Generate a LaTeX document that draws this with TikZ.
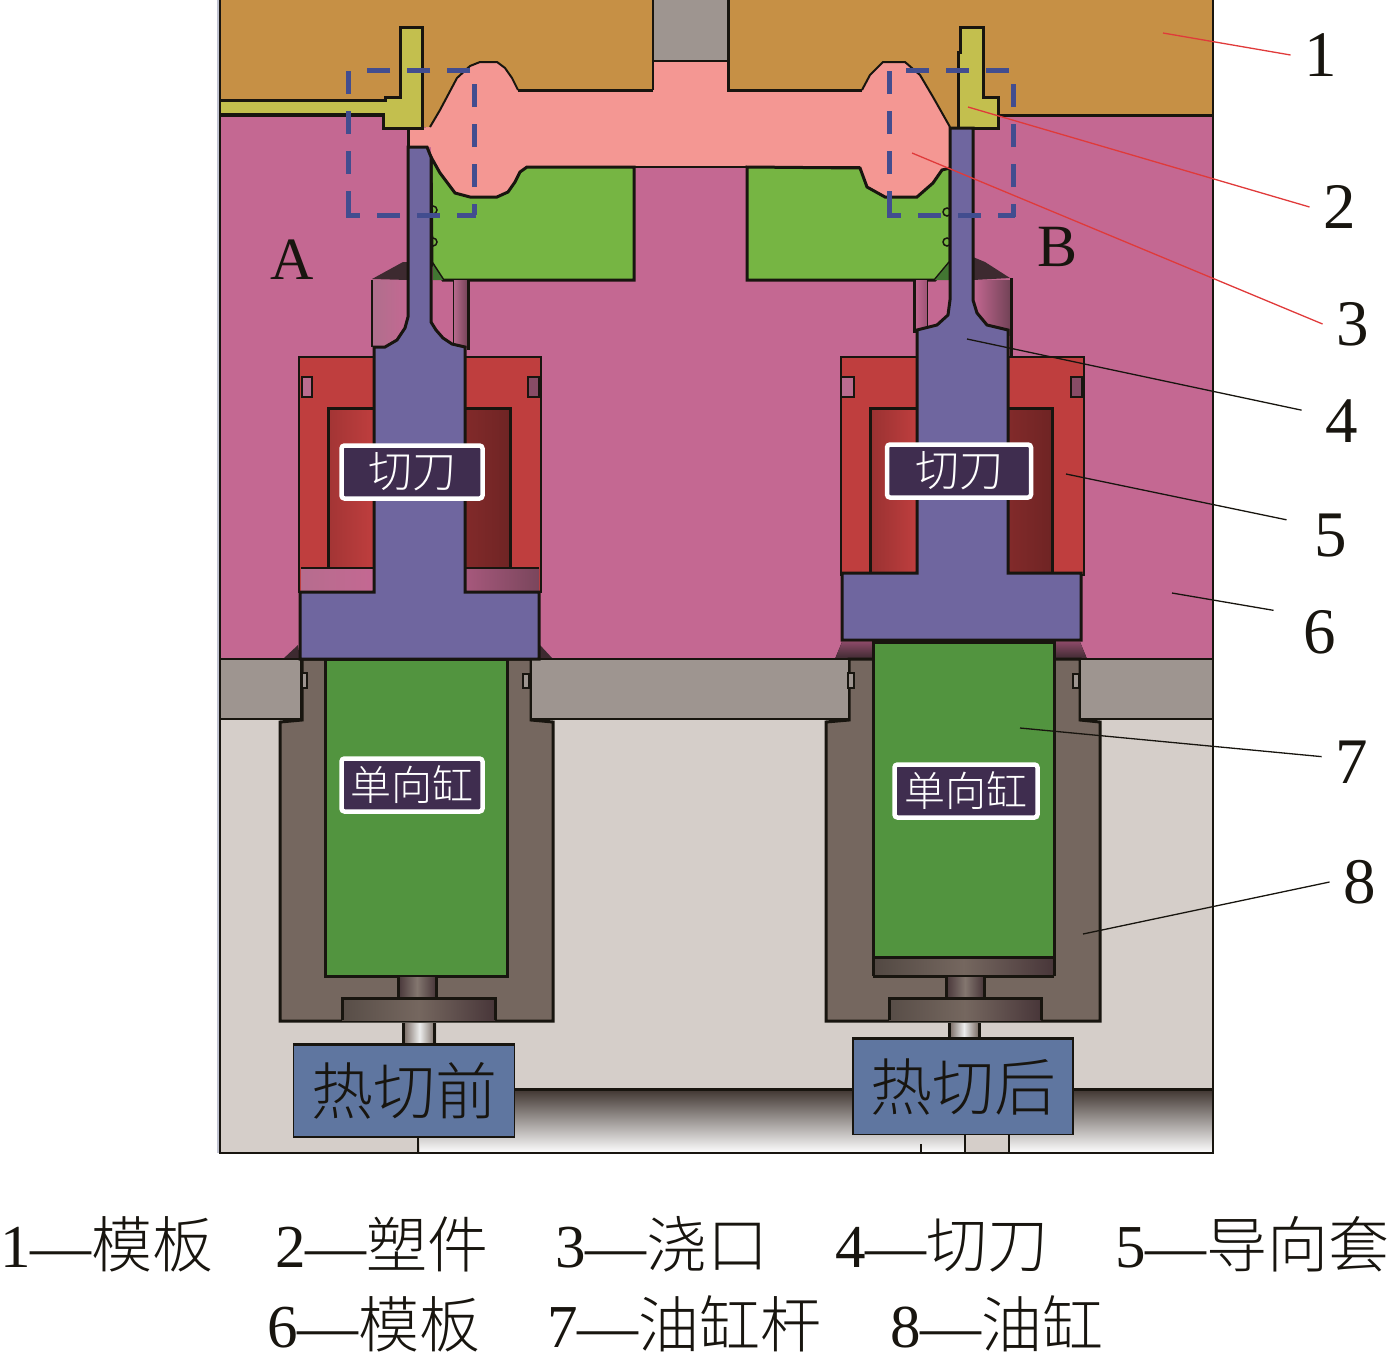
\documentclass[tikz,border=0pt]{standalone}
\usepackage{fontspec}
\setmainfont{Liberation Serif}
\newfontfamily\cjk{Noto Sans CJK SC Light}
\definecolor{plateBrown}{HTML}{C69045}
\definecolor{plateGrey}{HTML}{9E9590}
\definecolor{gateSalmon}{HTML}{F49793}
\definecolor{partYellow}{HTML}{C3BF4E}
\definecolor{mouldPink}{HTML}{C46892}
\definecolor{blockGreen}{HTML}{76B543}
\definecolor{rodGreen}{HTML}{52943F}
\definecolor{bladeBlue}{HTML}{6F669F}
\definecolor{guideRed}{HTML}{BF3E3E}
\definecolor{cylGrey}{HTML}{75675F}
\definecolor{floorGrey}{HTML}{D5CEC9}
\definecolor{stageBlue}{HTML}{5F76A0}
\definecolor{darkPlum}{HTML}{3D2A30}
\definecolor{grooveDark}{HTML}{423833}
\definecolor{tagPlum}{HTML}{3F2D4F}
\definecolor{lineBlack}{HTML}{18150F}
\definecolor{dashBlue}{HTML}{424D8F}
\definecolor{leadRed}{HTML}{E03A3A}
\definecolor{stripGrey}{HTML}{C0C2D0}
\tikzstyle{part} = [draw=lineBlack, line width=3pt, line join=miter]
\tikzstyle{thinpart} = [draw=lineBlack, line width=1.5pt]
\tikzstyle{tagbox} = [draw=white, fill=tagPlum, line width=4.5pt, rounded corners=3pt,
    text=white, minimum height=53pt, inner sep=0pt]
\tikzstyle{stagebox} = [draw=lineBlack, fill=stageBlue, line width=1.2pt, inner sep=0pt,
    minimum height=92pt, text=lineBlack, font=\fontsize{62}{62}\selectfont\cjk]
\tikzstyle{zonebox} = [draw=dashBlue, line width=5pt, dash pattern=on 23pt off 17pt]
\tikzstyle{numlabel} = [inner sep=14pt, text=lineBlack, font=\fontsize{65}{65}\selectfont]
\tikzstyle{zonelabel} = [inner sep=0pt, text=lineBlack, font=\fontsize{60}{60}\selectfont]
\tikzstyle{leadblack} = [draw=lineBlack, line width=1.3pt]
\tikzstyle{leadred} = [draw=leadRed, line width=1.3pt]
\tikzstyle{capitem} = [anchor=base west, inner sep=0pt, text=lineBlack, font=\fontsize{61}{61}\selectfont]

\begin{document}
\begin{tikzpicture}[x=1pt,y=-1pt]
\useasboundingbox (0,0) rectangle (1392,1358);

\fill[floorGrey] (220,700) rectangle (1213,1153);
\fill[top color=grooveDark, bottom color=white] (420,1090) rectangle (1213,1153);
\draw[part] (420,1089) -- (1213,1089);
\fill[floorGrey] (965,1134) rectangle (1009,1153);
\draw[thinpart] (965,1134) -- (965,1153) (1009,1134) -- (1009,1153) (921,1144) -- (921,1153);
\draw[thinpart] (418,1137) -- (418,1153);
\fill[mouldPink] (221,100) rectangle (1213,660);
\fill[plateGrey] (653,0) rectangle (728,62);

% gate, the plates and blocks cover what is too much here
\fill[gateSalmon] (410,128) -- (426,128) -- (426,61) -- (955,61) -- (955,198) -- (747,198) -- (747,167)
    -- (634,167) -- (634,198) -- (431,198) -- (431,147) -- (410,147) -- cycle;
\draw[thinpart] (653,61) -- (728,61);
\draw[thinpart] (527,167) -- (860,167);

% mould plate
\fill[plateBrown] (221,0) -- (653,0) -- (653,90) -- (518,90) -- (512,78) -- (505,68) -- (497,62) -- (480,62)
    -- (470,66) -- (457,78) -- (440,110) -- (430,127) -- (383,127) -- (383,115) -- (221,115) -- cycle;
\draw[thinpart] (653,0) -- (653,90);
\draw[part] (653,90) -- (518,90);
\draw[line width=2pt,draw=lineBlack] (518,90) -- (512,78) -- (505,68) -- (497,62) -- (480,62)
    -- (470,66) -- (457,78) -- (440,110) -- (430,127);
\fill[plateBrown] (728,0) -- (1213,0) -- (1213,115) -- (998,115) -- (998,128) -- (950,128) -- (933,97)
    -- (920,75) -- (905,62) -- (883,62) -- (870,75) -- (862,90) -- (728,90) -- cycle;
\draw[part] (728,0) -- (728,90) -- (862,90);
\draw[line width=2pt,draw=lineBlack] (862,90) -- (870,75) -- (883,62) -- (905,62) -- (920,75) -- (933,97) -- (950,127);
\draw[part] (998,115) -- (1213,115);
\draw[part] (221,115) -- (383,115);

% moulded part
\filldraw[part, fill=partYellow] (221,100) -- (385,100) -- (385,97) -- (400,97) -- (400,27) -- (422,27)
    -- (422,128) -- (383,128) -- (383,114) -- (221,114);
\filldraw[part, fill=partYellow] (960,27) -- (983,27) -- (983,97) -- (998,97) -- (998,128) -- (958,128)
    -- (958,52) -- (960,52) -- cycle;

% green blocks
\filldraw[part, fill=blockGreen] (431,157) -- (440,173) -- (455,193) -- (470,197) -- (497,197) -- (508,192)
    -- (515,182) -- (520,172) -- (527,167) -- (634,167) -- (634,280) -- (443,280) -- (432,263) -- cycle;
\filldraw[part, fill=blockGreen] (950,168) -- (942,170) -- (933,183) -- (917,197) -- (885,197) -- (867,187)
    -- (860,168) -- (747,167) -- (747,280) -- (935,280) -- (950,262) -- cycle;
\draw[thinpart] (433,210) circle (4pt) (433,242) circle (4pt) (947,212) circle (4pt) (947,242) circle (4pt);

% holes above the guide sleeves
\fill[left color=mouldPink!70!gray, right color=mouldPink] (372,280) rectangle (408,347);
\fill[left color=mouldPink!85!gray, right color=darkPlum!60!mouldPink] (453,280) rectangle (468,347);
\fill[darkPlum] (372,279) -- (403,262) -- (408,262) -- (408,280) -- cycle;
\fill[rodGreen!80!black] (433,265) -- (443,280) -- (433,280) -- cycle;
\draw[thinpart] (372,280) -- (372,347);
\draw[thinpart, line width=1pt] (453,280) -- (453,347);
\draw[part] (468,280) -- (468,350);
\fill[left color=mouldPink, right color=darkPlum!60!mouldPink] (973,280) rectangle (1010,335);
\fill[left color=mouldPink, right color=mouldPink!80!black] (915,280) rectangle (927,330);
\fill[darkPlum] (973,257) -- (985,262) -- (1010,278) -- (973,280) -- cycle;
\fill[rodGreen!80!black] (950,262) -- (935,280) -- (950,280) -- cycle;
\draw[thinpart, line width=1pt] (927,280) -- (927,330);
\draw[part] (914,280) -- (914,333) (1011,278) -- (1011,360);

% guide sleeves
\filldraw[thinpart, line width=2pt, fill=guideRed] (299,357) rectangle (541,592);
\fill[left color=guideRed!85!black, right color=guideRed] (328,408) rectangle (374,567);
\fill[left color=guideRed!68!black, right color=guideRed!58!black] (465,408) rectangle (510,567);
\draw[part] (328,567) -- (328,408) -- (374,408) (465,408) -- (510,408) -- (510,567);
\fill[left color=mouldPink!80!gray, right color=mouldPink] (301,569) rectangle (374,592);
\fill[left color=mouldPink!85!black, right color=darkPlum!55!mouldPink] (465,569) rectangle (539,592);
\draw[thinpart] (301,568) -- (374,568) (465,568) -- (539,568);
\filldraw[thinpart, fill=mouldPink!85!gray] (302,377) rectangle (312,397);
\filldraw[thinpart, fill=darkPlum!45!mouldPink] (528,377) rectangle (539,397);
\filldraw[thinpart, line width=2pt, fill=guideRed] (841,357) rectangle (1084,575);
\fill[left color=guideRed!80!black, right color=guideRed] (870,408) rectangle (917,573);
\fill[left color=guideRed!68!black, right color=guideRed!58!black] (1008,408) rectangle (1052,573);
\draw[part] (870,573) -- (870,408) -- (917,408) (1008,408) -- (1052,408) -- (1052,573);
\filldraw[thinpart, fill=mouldPink!85!gray] (841,377) rectangle (854,397);
\filldraw[thinpart, fill=darkPlum!45!mouldPink] (1071,377) rectangle (1082,397);

% plates, cylinders
\fill[darkPlum] (283,659) -- (298,645) -- (300,659) -- cycle;
\fill[darkPlum] (540,645) -- (553,659) -- (540,659) -- cycle;
\fill[top color=mouldPink!70!black, bottom color=darkPlum] (835,659) -- (842,642) -- (873,642) -- (873,659) -- cycle;
\fill[top color=mouldPink!70!black, bottom color=darkPlum] (1054,642) -- (1080,642) -- (1087,659) -- (1054,659) -- cycle;
\filldraw[part, fill=cylGrey] (302,659) -- (531,659) -- (531,720) -- (553,722) -- (553,1021) -- (280,1021)
    -- (280,722) -- (302,720) -- cycle;
\filldraw[part, fill=cylGrey] (849,659) -- (1080,659) -- (1080,720) -- (1100,722) -- (1100,1021) -- (826,1021)
    -- (826,722) -- (849,720) -- cycle;
\filldraw[thinpart, line width=2pt, fill=plateGrey] (221,659) -- (301,659) -- (301,719) -- (221,719);
\filldraw[thinpart, line width=2pt, fill=plateGrey] (531,659) rectangle (849,719);
\filldraw[thinpart, line width=2pt, fill=plateGrey] (1213,659) -- (1080,659) -- (1080,719) -- (1213,719);
\filldraw[thinpart, fill=plateGrey] (302,673) rectangle (307,688);
\filldraw[thinpart, fill=plateGrey] (523,674) rectangle (529,688);
\filldraw[thinpart, fill=plateGrey] (848,673) rectangle (854,688);
\filldraw[thinpart, fill=plateGrey] (1073,674) rectangle (1079,688);
\filldraw[part, fill=rodGreen] (325,659) rectangle (507,976);
\filldraw[part, fill=rodGreen] (873,642) rectangle (1054,957);
\fill[left color=cylGrey!70!black, right color=darkPlum!80!cylGrey, middle color=cylGrey] (873,959) rectangle (1054,976);
\draw[part] (873,976) -- (1054,976) (873,957) -- (873,976) (1054,957) -- (1054,976);

% lower stems
\fill[left color=darkPlum!80!cylGrey, right color=darkPlum!80!cylGrey, middle color=cylGrey!90!white] (398,977) rectangle (436,998);
\fill[left color=darkPlum!80!cylGrey, right color=darkPlum!80!cylGrey, middle color=cylGrey!90!white] (946,977) rectangle (984,998);
\draw[part] (398,977) -- (398,998) (436,977) -- (436,998) (946,977) -- (946,998) (984,977) -- (984,998);
\fill[left color=cylGrey!75!black, right color=darkPlum!80!cylGrey, middle color=cylGrey] (342,998) rectangle (495,1020);
\fill[left color=cylGrey!75!black, right color=darkPlum!80!cylGrey, middle color=cylGrey] (889,998) rectangle (1041,1020);
\draw[part] (342,1020) -- (342,998) -- (495,998) -- (495,1020) (889,1020) -- (889,998) -- (1041,998) -- (1041,1020);
\fill[left color=cylGrey, right color=cylGrey, middle color=white!85!gray] (403,1023) rectangle (436,1045);
\fill[left color=cylGrey, right color=cylGrey, middle color=white!85!gray] (949,1023) rectangle (979,1040);
\draw[part] (403,1023) -- (403,1045) (434,1023) -- (434,1045) (949,1023) -- (949,1040) (979,1023) -- (979,1040);

% cutting blades
\filldraw[part, fill=bladeBlue] (410,147) -- (427,147) -- (431,157) -- (431,322) -- (436,330) -- (443,338)
    -- (452,344) -- (465,347) -- (465,592) -- (539,592) -- (539,659) -- (300,659) -- (300,592)
    -- (374,592) -- (374,347) -- (385,347) -- (397,340) -- (405,328) -- (408,317) -- (408,147) -- cycle;
\draw[part] (408,128) -- (408,147);
\filldraw[part, fill=bladeBlue] (950,128) -- (973,128) -- (973,300) -- (977,313) -- (987,325) -- (1008,330)
    -- (1008,573) -- (1081,573) -- (1081,640) -- (842,640) -- (842,573) -- (917,573) -- (917,330)
    -- (937,325) -- (948,315) -- (950,300) -- cycle;
\draw[part] (873,642) -- (1054,642);

% frame
\draw[draw=stripGrey, line width=2pt] (218,0) -- (218,1153);
\draw[draw=lineBlack, line width=1.2pt] (220,0) -- (220,1153) -- (1213,1153) -- (1213,0);

% zones
\draw[zonebox] (348,71) -- (348,217);
\draw[zonebox, dash phase=9pt] (346,215) -- (476,215);
\draw[zonebox, dash phase=12pt] (474,215) -- (474,82);
\draw[zonebox, dash phase=36pt] (474,70) -- (366,70);
\draw[zonebox] (889,71) -- (889,217);
\draw[zonebox, dash phase=9pt] (887,215) -- (1015,215);
\draw[zonebox, dash phase=10pt] (1013,217) -- (1013,82);
\draw[zonebox, dash phase=36pt] (1013,70) -- (905,70);
\node[zonelabel] (zoneA) at (292,260) {A};
\node[zonelabel] (zoneB) at (1057,247) {B};

% tags
\node[tagbox, minimum width=141pt, font=\fontsize{44}{44}\selectfont\cjk] (tagBladeL) at (412,472) {切刀};
\node[tagbox, minimum width=144pt, font=\fontsize{44}{44}\selectfont\cjk] (tagBladeR) at (959,471) {切刀};
\node[tagbox, minimum width=141pt, font=\fontsize{41}{41}\selectfont\cjk] (tagCylL) at (412,785) {单向缸};
\node[tagbox, minimum width=143pt, font=\fontsize{41}{41}\selectfont\cjk] (tagCylR) at (966,791) {单向缸};
\node[stagebox, minimum width=221pt] (stageBefore) at (404,1091) {热切前};
\node[stagebox, minimum width=220pt, minimum height=95pt] (stageAfter) at (963,1087) {热切后\hspace{8pt}};
\draw[part] (stageBefore.north west) -- (stageBefore.north east);
\draw[part] (stageAfter.north west) -- (stageAfter.north east);

% numbers with leaders
\node[numlabel] (num1) at (1321,55) {1};
\node[numlabel] (num2) at (1340,207) {2};
\node[numlabel] (num3) at (1353,324) {3};
\node[numlabel, inner sep=24pt] (num4) at (1342,421) {4};
\node[numlabel, inner sep=28pt] (num5) at (1331,536) {5};
\node[numlabel, inner sep=30pt] (num6) at (1320,632) {6};
\node[numlabel] (num7) at (1352,762) {7};
\node[numlabel] (num8) at (1360,882) {8};
\coordinate (tip1) at (1163,33);
\coordinate (tip2) at (968,107);
\coordinate (tip3) at (912,153);
\coordinate (tip4) at (967,339);
\coordinate (tip5) at (1066,474);
\coordinate (tip6) at (1172,593);
\coordinate (tip7) at (1020,728);
\coordinate (tip8) at (1083,934);
\draw[leadred] (tip1) -- (num1.west);
\draw[leadred] (tip2) -- (num2.west);
\draw[leadred] (tip3) -- (num3.west);
\draw[leadblack] (tip4) -- (num4.165);
\draw[leadblack] (tip5) -- (num5.160);
\draw[leadblack] (tip6) -- (num6.155);
\draw[leadblack] (tip7) -- (num7.170);
\draw[leadblack] (tip8) -- (num8.west);

% caption
\node[capitem] (cap1) at (0,1267) {1—{\cjk 模板}};
\node[capitem] (cap2) at (275,1267) {2—{\cjk 塑件}};
\node[capitem] (cap3) at (555,1267) {3—{\cjk 浇口}};
\node[capitem] (cap4) at (835,1267) {4—{\cjk 切刀}};
\node[capitem] (cap5) at (1115,1267) {5—{\cjk 导向套}};
\node[capitem] (cap6) at (267,1347) {6—{\cjk 模板}};
\node[capitem] (cap7) at (547,1347) {7—{\cjk 油缸杆}};
\node[capitem] (cap8) at (890,1347) {8—{\cjk 油缸}};
\end{tikzpicture}
\end{document}
